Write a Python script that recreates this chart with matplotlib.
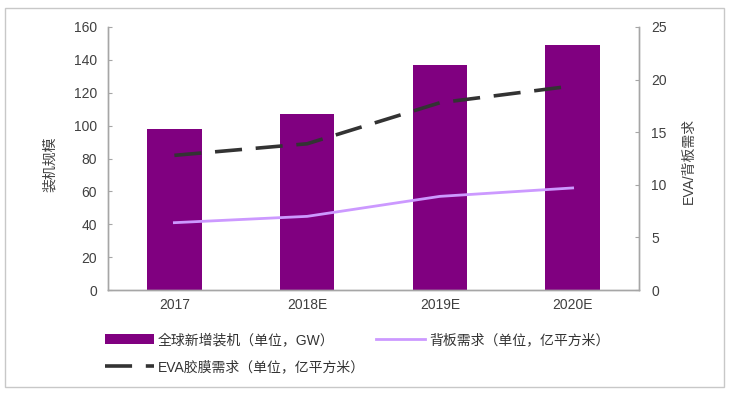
"""EVA film / backsheet demand vs global new PV installations."""
import matplotlib
matplotlib.use("Agg")
import matplotlib.pyplot as plt
from matplotlib.patches import Rectangle
from matplotlib.lines import Line2D

plt.rcParams["font.family"] = ["Liberation Sans", "Noto Sans CJK SC"]

years = ["2017", "2018E", "2019E", "2020E"]
installs_gw = [98, 107, 137, 149]
eva_demand = [12.8, 13.9, 17.8, 19.4]
backsheet_demand = [6.4, 7.0, 8.9, 9.7]

BAR = "#800080"
BACK = "#cc99ff"
EVA = "#333333"
SPINE = "#a6a6a6"
TXT = "#404040"
DASH = (7.5, 3.8)

fig = plt.figure(figsize=(7.31, 3.93), dpi=100)
ax = fig.add_axes([108 / 731, 1 - 290 / 393, 531 / 731, 263 / 393])
ax2 = ax.twinx()

x = list(range(len(years)))
ax.bar(x, installs_gw, width=0.41, color=BAR, zorder=2)
ax.set_xlim(-0.5, 3.5)
ax.set_ylim(0, 160)
ax.set_yticks(range(0, 161, 20))
ax.set_xticks(x)
ax.set_xticklabels(years)

eva_line, = ax2.plot(x, eva_demand, color=EVA, lw=2.6, dashes=DASH, zorder=3)
back_line, = ax2.plot(x, backsheet_demand, color=BACK, lw=2.0, zorder=3)
ax2.set_ylim(0, 25)
ax2.set_yticks(range(0, 26, 5))

for a in (ax, ax2):
    a.spines["top"].set_visible(False)
    for s in ("left", "right", "bottom"):
        a.spines[s].set_color(SPINE)
        a.spines[s].set_linewidth(1.0)
    a.tick_params(axis="y", direction="in", length=3, color=SPINE,
                  labelsize=10, labelcolor=TXT)
ax.tick_params(axis="y", pad=8)
ax2.tick_params(axis="y", pad=9)
ax.tick_params(axis="x", length=0, labelsize=10, labelcolor=TXT, pad=6)

ax.set_ylabel("装机规模", fontsize=10, color=TXT)
ax.yaxis.set_label_coords(-0.096, 0.48)
ax2.set_ylabel("EVA/背板需求", fontsize=10, color=TXT)
ax2.yaxis.set_label_coords(1.081, 0.49)

# legend: first row two entries, second row one
bar_handle = Rectangle((0, 0), 1, 1, facecolor=BAR, edgecolor="none")
eva_handle = Line2D([], [], color=EVA, lw=2.6, dashes=DASH)
back_handle = Line2D([], [], color=BACK, lw=2.0)
common = dict(frameon=False, fontsize=10, handlelength=3.5, handletextpad=0.3,
              borderpad=0, borderaxespad=0, labelcolor="#333333", loc="upper left")
fig.legend([bar_handle, back_handle],
           ["全球新增装机（单位，GW）", "背板需求（单位，亿平方米）"],
           ncol=2, columnspacing=3.0,
           bbox_to_anchor=(105 / 731, 1 - 333 / 393), **common)
fig.legend([eva_handle], ["EVA胶膜需求（单位，亿平方米）"],
           bbox_to_anchor=(105 / 731, 1 - 360 / 393), **common)

fig.patches.append(Rectangle((5 / 731, 1 - 387 / 393), 719 / 731, 379 / 393,
                             transform=fig.transFigure, fill=False,
                             edgecolor="#c8c8c8", lw=1.0))

fig.savefig("out.png", dpi=100, facecolor="white")
